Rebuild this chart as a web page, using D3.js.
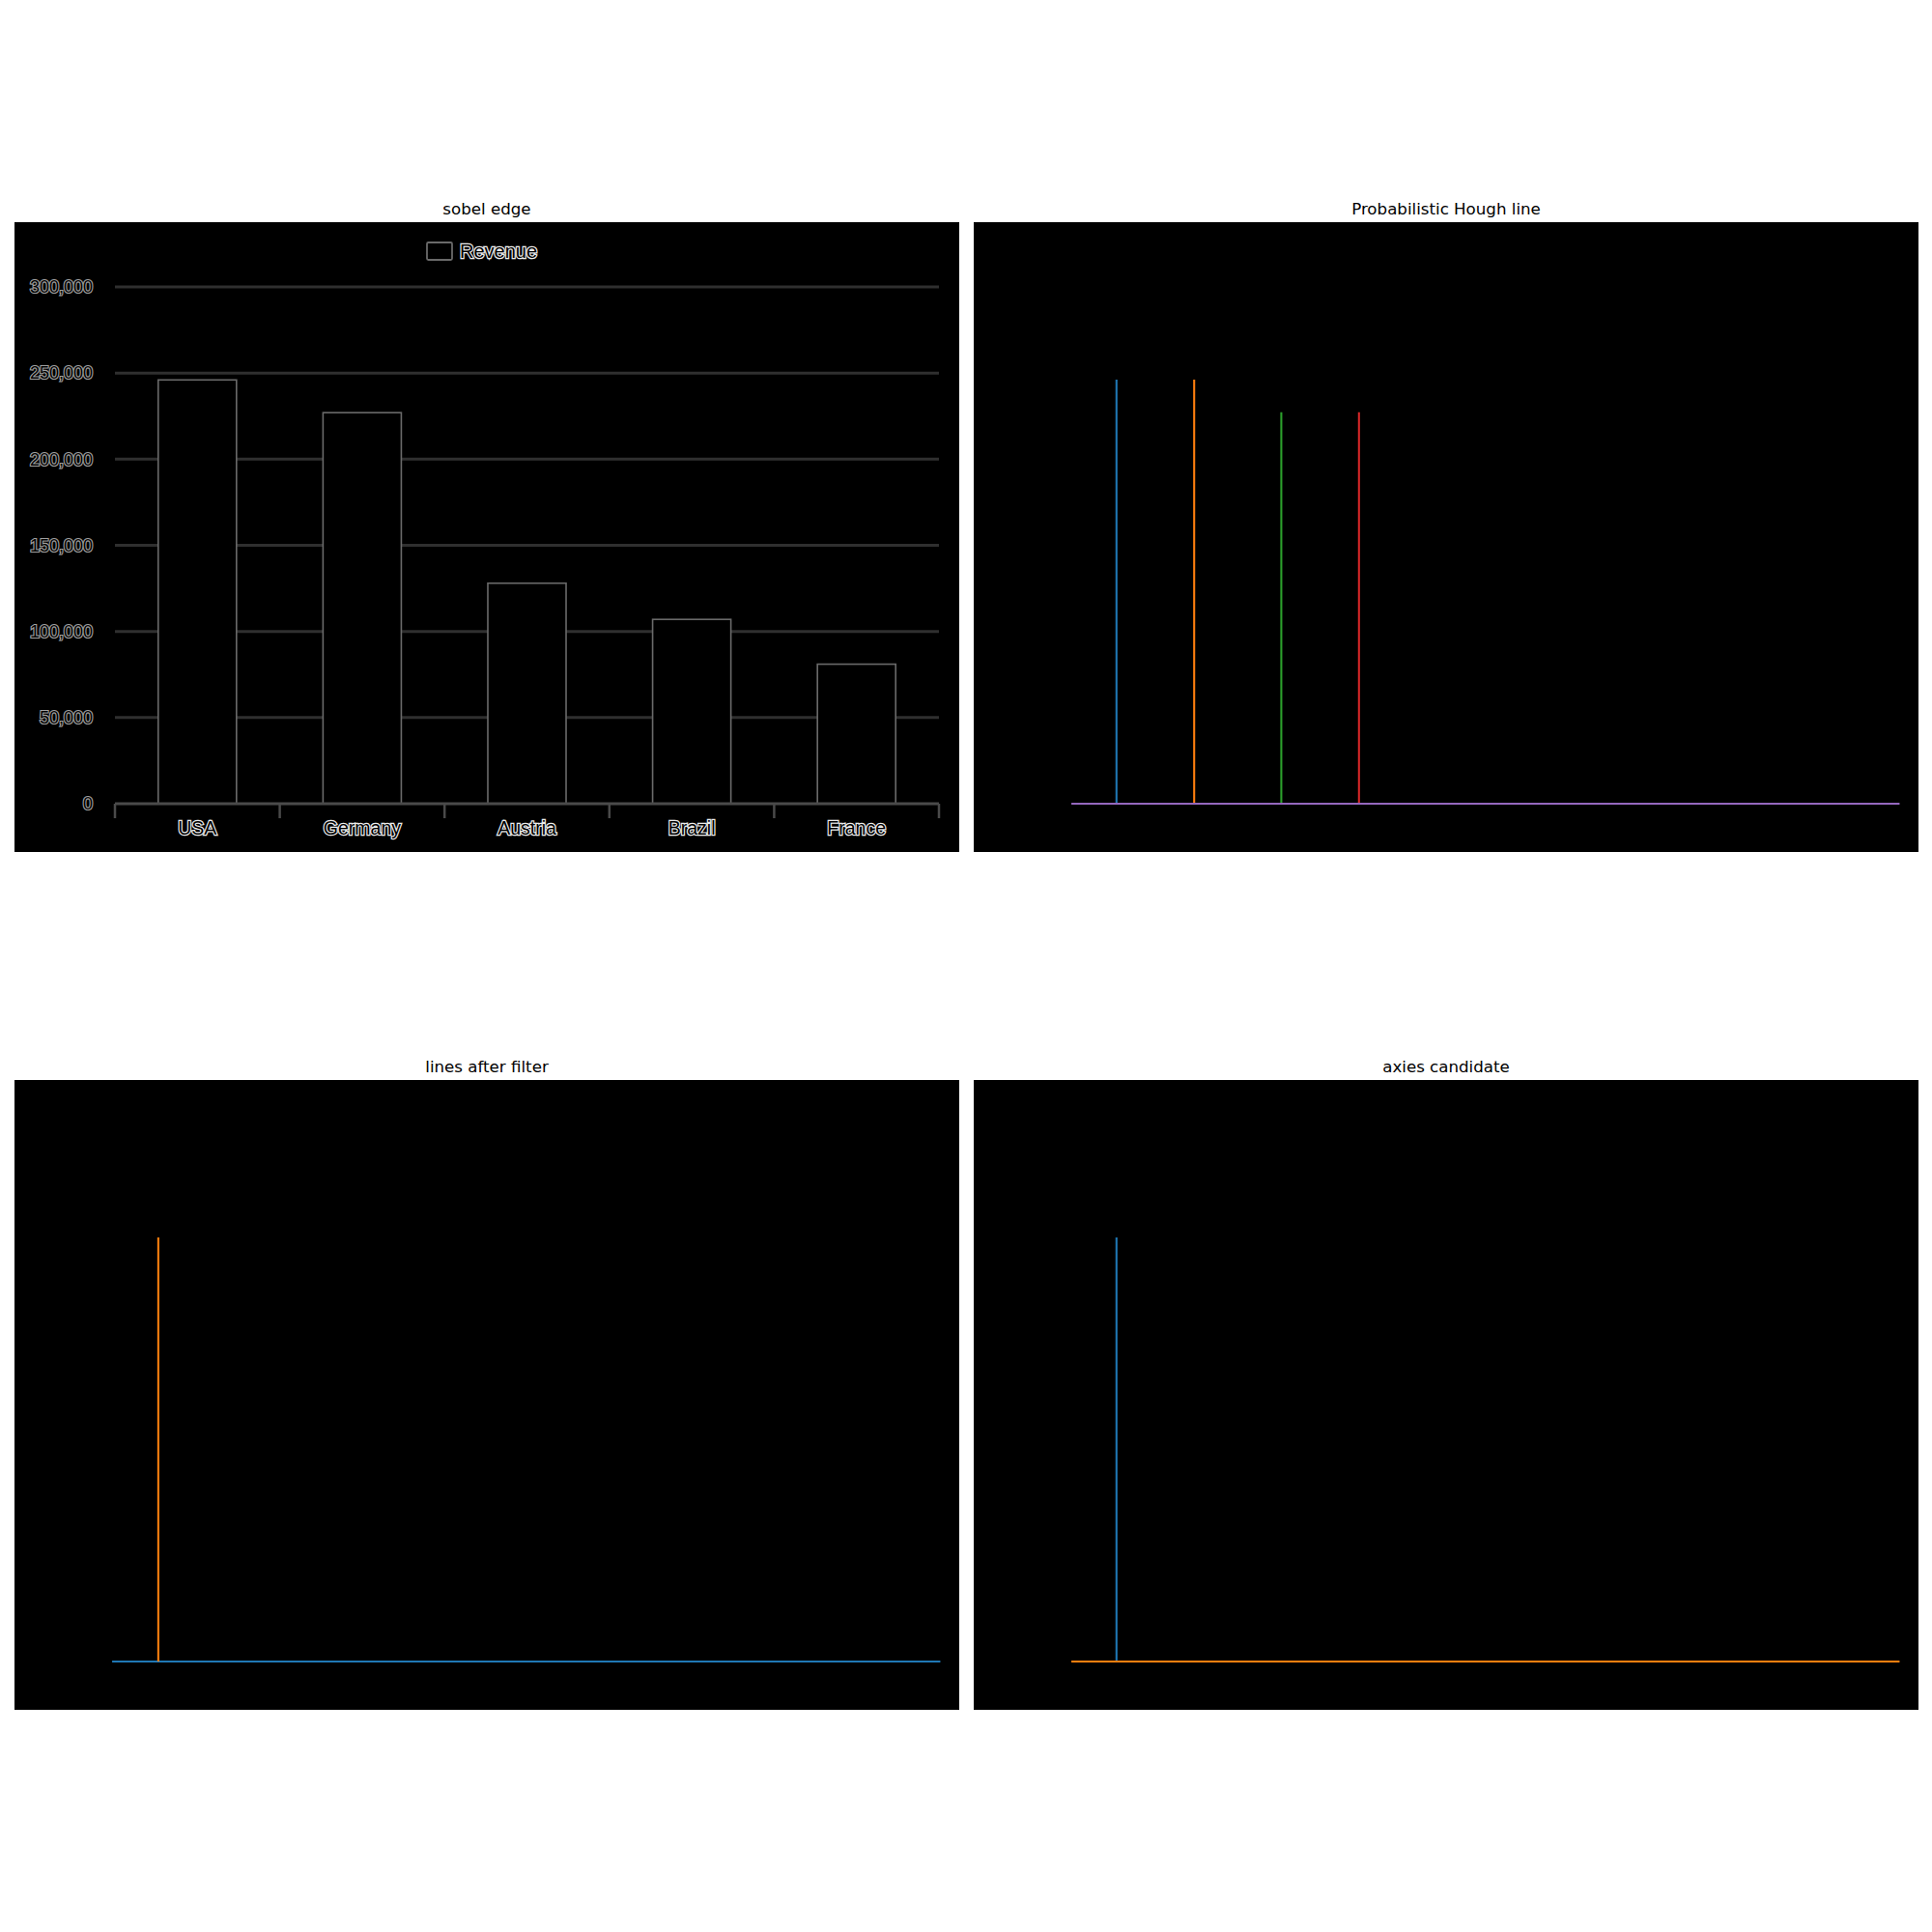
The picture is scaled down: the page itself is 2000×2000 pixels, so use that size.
<!DOCTYPE html>
<html>
<head>
<meta charset="utf-8">
<script src="https://cdn.jsdelivr.net/npm/d3@7"></script>
<style>
  html, body { margin: 0; padding: 0; background: #fff; }
  svg { display: block; }
</style>
</head>
<body>
<script>
// ---------- data ----------
const panelTitles = ["sobel edge", "Probabilistic Hough line", "lines after filter", "axies candidate"];
const categories = ["USA", "Germany", "Austria", "Brazil", "France"];
const revenue = [246000, 227000, 128000, 107000, 81000];
const yTicks = [0, 50000, 100000, 150000, 200000, 250000, 300000];
const legendLabel = "Revenue";

// detected lines, in source-image pixel coordinates (900 x 600 image): [x1, y1, x2, y2]
const houghLines = [
  [136, 150, 136, 554],
  [210, 150, 210, 554],
  [293, 181, 293, 554],
  [367, 181, 367, 554],
  [93, 554, 882, 554]
];
const filteredLines = [
  [93, 554, 882, 554],
  [137, 150, 137, 554]
];
const axisCandidates = [
  [136, 150, 136, 554],
  [93, 554, 882, 554]
];

// ---------- layout ----------
const W = 2000, H = 2000;
const PW = 978, PH = 652;
const panels = [
  { x: 15, y: 230 },
  { x: 1008, y: 230 },
  { x: 15, y: 1118 },
  { x: 1008, y: 1118 }
];
const tab10 = d3.schemeCategory10;

const svg = d3.select("body").append("svg").attr("width", W).attr("height", H);
svg.append("rect").attr("width", W).attr("height", H).attr("fill", "#fff");

const groups = panels.map((p, i) => {
  const g = svg.append("g").attr("transform", `translate(${p.x},${p.y})`);
  g.append("rect").attr("width", PW).attr("height", PH).attr("fill", "#000");
  svg.append("text")
    .attr("x", p.x + PW / 2).attr("y", p.y - 8.5)
    .attr("text-anchor", "middle")
    .attr("font-family", "DejaVu Sans")
    .attr("font-size", 16.67)
    .attr("fill", "#000")
    .text(panelTitles[i]);
  return g;
});

// ---------- panel 1: sobel edge of bar chart ----------
(function () {
  const g = groups[0];
  const x = d3.scaleBand().domain(categories).range([104, 957]).padding(0);
  const y = d3.scaleLinear().domain([0, 300000]).range([602, 67]);

  // gridlines
  g.selectAll("line.grid").data(yTicks.filter(d => d > 0)).join("line")
    .attr("x1", 104).attr("x2", 957)
    .attr("y1", d => y(d)).attr("y2", d => y(d))
    .attr("stroke", "#2f2f2f").attr("stroke-width", 3);

  // bars (black fill, gray outline)
  const bw = x.bandwidth() * 0.475;
  g.selectAll("rect.bar").data(categories).join("rect")
    .attr("x", d => x(d) + (x.bandwidth() - bw) / 2)
    .attr("y", (d, i) => y(revenue[i]))
    .attr("width", bw)
    .attr("height", (d, i) => y(0) - y(revenue[i]))
    .attr("fill", "#000")
    .attr("stroke", "#6a6a6a").attr("stroke-width", 1.6);

  // x axis
  g.append("line").attr("x1", 104).attr("x2", 957).attr("y1", y(0)).attr("y2", y(0))
    .attr("stroke", "#4a4a4a").attr("stroke-width", 3);
  const boundaries = categories.map(c => x(c)).concat([x.range()[1]]);
  g.selectAll("line.xt").data(boundaries).join("line")
    .attr("x1", d => d).attr("x2", d => d)
    .attr("y1", y(0)).attr("y2", y(0) + 15)
    .attr("stroke", "#4a4a4a").attr("stroke-width", 2.5);
  g.selectAll("text.xl").data(categories).join("text")
    .attr("x", d => x(d) + x.bandwidth() / 2)
    .attr("y", 627).attr("dy", "0.35em")
    .attr("text-anchor", "middle")
    .attr("font-family", "Liberation Sans, Arial, sans-serif")
    .attr("font-size", 19.5)
    .attr("paint-order", "stroke")
    .attr("fill", "#000").attr("stroke", "#ececec").attr("stroke-width", 2.4)
    .text(d => d);

  // y labels
  const fmt = d3.format(",");
  g.selectAll("text.yl").data(yTicks).join("text")
    .attr("x", 81).attr("y", d => y(d)).attr("dy", "0.35em")
    .attr("text-anchor", "end")
    .attr("font-family", "Liberation Sans, Arial, sans-serif")
    .attr("font-size", 18)
    .attr("paint-order", "stroke")
    .attr("fill", "#000").attr("stroke", "#a0a0a0").attr("stroke-width", 2.2)
    .text(d => fmt(d));

  // legend
  g.append("rect").attr("x", 427).attr("y", 21).attr("width", 26).attr("height", 18)
    .attr("rx", 1.5)
    .attr("fill", "#000").attr("stroke", "#6a6a6a").attr("stroke-width", 1.8);
  g.append("text").attr("x", 461).attr("y", 30).attr("dy", "0.35em")
    .attr("font-family", "Liberation Sans, Arial, sans-serif")
    .attr("font-size", 20)
    .attr("paint-order", "stroke")
    .attr("fill", "#000").attr("stroke", "#ececec").attr("stroke-width", 2.4)
    .text(legendLabel);
})();

// ---------- line panels ----------
const xi = d3.scaleLinear().domain([0, 900]).range([0, PW]);
const yi = d3.scaleLinear().domain([0, 600]).range([0, PH]);
function drawLines(g, lines) {
  g.selectAll("line.seg").data(lines).join("line")
    .attr("x1", d => xi(d[0])).attr("y1", d => yi(d[1]))
    .attr("x2", d => xi(d[2])).attr("y2", d => yi(d[3]))
    .attr("stroke", (d, i) => tab10[i % 10])
    .attr("stroke-width", 2.08);
}
drawLines(groups[1], houghLines);
drawLines(groups[2], filteredLines);
drawLines(groups[3], axisCandidates);
</script>
</body>
</html>
